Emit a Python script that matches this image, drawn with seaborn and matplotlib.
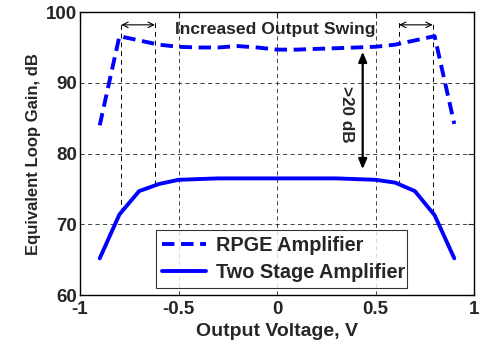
import matplotlib
matplotlib.use("Agg")
import matplotlib.pyplot as plt
import seaborn as sns
import pandas as pd

# Data
voltage = [-0.9, -0.8, -0.7, -0.6, -0.5, -0.4, -0.3, -0.2, -0.1, 0.0,
           0.1, 0.2, 0.3, 0.4, 0.5, 0.6, 0.7, 0.8, 0.9]
rpge_gain = [84.0, 96.6, 96.0, 95.4, 95.1, 95.0, 95.0, 95.2, 95.0, 94.7,
             94.7, 94.8, 94.9, 95.0, 95.1, 95.4, 96.0, 96.6, 84.2]
two_stage_gain = [65.2, 71.4, 74.7, 75.7, 76.3, 76.4, 76.5, 76.5, 76.5, 76.5,
                  76.5, 76.5, 76.5, 76.4, 76.3, 75.9, 74.7, 71.3, 65.2]
series_names = ["RPGE Amplifier", "Two Stage Amplifier"]
x_ticks = [-1, -0.5, 0, 0.5, 1]
x_tick_labels = ["-1", "-0.5", "0", "0.5", "1"]
y_ticks = [60, 70, 80, 90, 100]
swing_edges = [-0.79, -0.62, 0.62, 0.79]
swing_bottoms = [71.6, 75.6, 75.6, 71.6]

sns.set_style("white")
plt.rcParams['font.family'] = ['Liberation Sans', 'DejaVu Sans']
plt.rcParams['font.weight'] = 'bold'

df = pd.DataFrame({
    "V": voltage * 2,
    "Gain": rpge_gain + two_stage_gain,
    "Series": [series_names[0]] * len(voltage) + [series_names[1]] * len(voltage),
})

fig = plt.figure(figsize=(4.8, 3.46), dpi=100)
ax = fig.add_axes([0.1667, 0.147, 0.8208, 0.818])

sns.lineplot(data=df, x="V", y="Gain", hue="Series", style="Series",
             palette=["#0000ff", "#0000ff"], dashes=[(3.2, 1.7), ""],
             linewidth=2.8, ax=ax, legend=True)

ax.set_xlim(-1, 1)
ax.set_ylim(60, 100)
ax.set_xticks(x_ticks)
ax.set_xticklabels(x_tick_labels)
ax.set_yticks(y_ticks)
ax.grid(True, color="black", linestyle=(0, (5, 4)), linewidth=0.6, alpha=0.85)
ax.tick_params(direction="in", length=4, width=0.8, top=True, right=True,
               labelsize=13.5, pad=2)
ax.tick_params(axis="x", pad=4)
for lab in ax.get_xticklabels() + ax.get_yticklabels():
    lab.set_fontweight("bold")
for s in ax.spines.values():
    s.set_visible(True)
    s.set_color("black")
    s.set_linewidth(1.0)

ax.set_xlabel("Output Voltage, V", fontsize=14, fontweight="bold", labelpad=4)
ax.set_ylabel("Equivalent Loop Gain, dB", fontsize=12, fontweight="bold", labelpad=4)

# Swing annotation lines
for xe, yb in zip(swing_edges, swing_bottoms):
    ax.plot([xe, xe], [yb, 98.6], color="black", linestyle=(0, (5, 4)),
            linewidth=0.7, zorder=1)
ax.annotate("", xy=(-0.62, 98.2), xytext=(-0.79, 98.2),
            arrowprops=dict(arrowstyle="<->", color="black", lw=0.8,
                            shrinkA=0, shrinkB=0))
ax.annotate("", xy=(0.79, 98.2), xytext=(0.62, 98.2),
            arrowprops=dict(arrowstyle="<->", color="black", lw=0.8,
                            shrinkA=0, shrinkB=0))
ax.text(-0.01, 97.6, "Increased Output Swing", ha="center", va="center",
        fontsize=12.6, fontweight="bold")

ax.annotate("", xy=(0.435, 94.4), xytext=(0.435, 77.8),
            arrowprops=dict(arrowstyle="<|-|>,head_width=0.25,head_length=0.6",
                            color="black", lw=1.6, shrinkA=0, shrinkB=0))
ax.text(0.352, 85.6, ">20 dB", rotation=-90, ha="center", va="center",
        fontsize=12.3, fontweight="bold")

leg = ax.legend(loc="lower left", bbox_to_anchor=(0.193, 0.026, 0.637, 0.206),
                mode="expand", fontsize=14.3, frameon=True, fancybox=False,
                handlelength=2.2, borderaxespad=0, borderpad=0.3,
                labelspacing=0.4, handletextpad=0.5)
leg.get_frame().set_edgecolor("black")
leg.get_frame().set_linewidth(0.8)
for t in leg.get_texts():
    t.set_fontweight("bold")

fig.savefig("out.png", dpi=100)
